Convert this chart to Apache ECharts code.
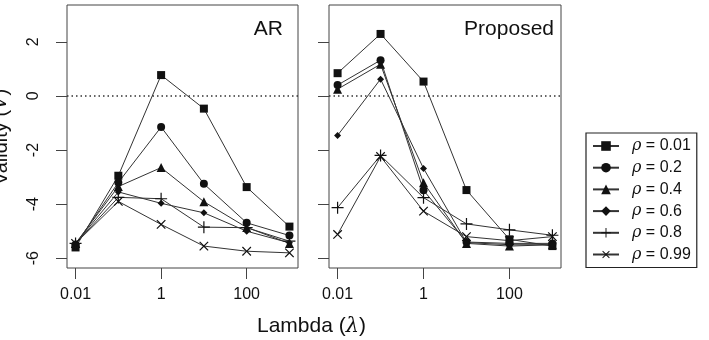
<!DOCTYPE html>
<html>
<head>
<meta charset="utf-8">
<script src="https://cdn.jsdelivr.net/npm/echarts@6/dist/echarts.min.js"></script>
<style>
  html, body { margin: 0; padding: 0; background: #fff; }
  #main { width: 709px; height: 340px; }
</style>
</head>
<body>
<div id="main"></div>
<script>
// lambda values on the x axis (log scale)
var lambdas = [0.01, 0.1, 1, 10, 100, 1000];
var rhoLabels = ['0.01', '0.2', '0.4', '0.6', '0.8', '0.99'];
var xTicks = [0.01, 1, 100];
var yTicks = [-6, -4, -2, 0, 2];

// AR panel, one array per rho
var ar001 = [-5.6, -2.95, 0.77, -0.47, -3.37, -4.83];
var ar02  = [-5.5, -3.2, -1.15, -3.25, -4.69, -5.16];
var ar04  = [-5.45, -3.35, -2.65, -3.91, -4.86, -5.45];
var ar06  = [-5.45, -3.55, -3.97, -4.32, -5.0, -5.43];
var ar08  = [-5.45, -3.75, -3.8, -4.85, -4.87, -5.37];
var ar099 = [-5.45, -3.9, -4.75, -5.55, -5.74, -5.8];

// Proposed panel
var pr001 = [0.84, 2.29, 0.53, -3.48, -5.3, -5.55];
var pr02  = [0.4, 1.32, -3.49, -5.4, -5.45, -5.45];
var pr04  = [0.25, 1.17, -3.21, -5.45, -5.55, -5.5];
var pr06  = [-1.46, 0.62, -2.68, -5.42, -5.5, -5.5];
var pr08  = [-4.13, -2.2, -3.76, -4.73, -4.95, -5.15];
var pr099 = [-5.12, -2.24, -4.26, -5.2, -5.35, -5.2];

var arSets = [ar001, ar02, ar04, ar06, ar08, ar099];
var prSets = [pr001, pr02, pr04, pr06, pr08, pr099];

var plusPath = 'path://M4.5,0 H5.5 V4.5 H10 V5.5 H5.5 V10 H4.5 V5.5 H0 V4.5 H4.5 Z';
var marks = [
    {symbol: 'rect', size: 8, rot: 0},
    {symbol: 'circle', size: 8, rot: 0},
    {symbol: 'triangle', size: 9, rot: 0},
    {symbol: 'diamond', size: 7, rot: 0},
    {symbol: plusPath, size: 12, rot: 0},
    {symbol: plusPath, size: 12, rot: 45}
];

var ink = '#111';
var fontFam = '"Liberation Sans", Arial, sans-serif';

function pairs(vals) {
    return lambdas.map(function (l, i) { return [l, vals[i]]; });
}

var series = [];
[arSets, prSets].forEach(function (sets, g) {
    sets.forEach(function (vals, k) {
        var s = {
            name: rhoLabels[k],
            type: 'line',
            xAxisIndex: g,
            yAxisIndex: g,
            data: pairs(vals),
            symbol: marks[k].symbol,
            symbolSize: marks[k].size,
            symbolRotate: marks[k].rot,
            showSymbol: true,
            animation: false,
            itemStyle: {color: ink},
            lineStyle: {color: '#333', width: 1},
            emphasis: {disabled: true},
            z: 3
        };
        if (k === 0) {
            s.markLine = {
                silent: true,
                symbol: 'none',
                label: {show: false},
                lineStyle: {color: '#333', width: 1.5, type: [1.5, 3]},
                data: [{yAxis: 0}]
            };
        }
        series.push(s);
    });
});

function xAxis(idx) {
    return {
        type: 'log',
        logBase: 10,
        gridIndex: idx,
        position: 'bottom',
        min: Math.pow(10, -2.2),
        max: Math.pow(10, 3.2),
        axisLine: {show: false, onZero: false},
        splitLine: {show: false},
        axisTick: {show: true, length: 11, customValues: xTicks, lineStyle: {color: '#444'}},
        axisLabel: {
            customValues: xTicks,
            margin: 19,
            color: ink,
            fontSize: 16,
            fontFamily: fontFam,
            formatter: function (v) { return String(v); }
        }
    };
}

function yAxis(idx) {
    return {
        type: 'value',
        gridIndex: idx,
        min: -6.36,
        max: 3.36,
        axisLine: {show: false, onZero: false},
        splitLine: {show: false},
        axisTick: {show: true, length: 11, customValues: yTicks, lineStyle: {color: '#444'}},
        axisLabel: {
            show: idx === 0,
            customValues: yTicks,
            rotate: 90,
            margin: 25,
            color: ink,
            fontSize: 16,
            fontFamily: fontFam
        }
    };
}

var chart = echarts.init(document.getElementById('main'), null, {renderer: 'canvas'});
chart.setOption({
    backgroundColor: '#fff',
    animation: false,
    grid: [
        {left: 67, top: 5, width: 231, height: 263, show: true, borderColor: '#444', borderWidth: 1, backgroundColor: 'transparent'},
        {left: 329, top: 5, width: 232, height: 263, show: true, borderColor: '#444', borderWidth: 1, backgroundColor: 'transparent'}
    ],
    xAxis: [xAxis(0), xAxis(1)],
    yAxis: [yAxis(0), yAxis(1)],
    legend: {
        orient: 'vertical',
        left: 586,
        top: 133,
        itemWidth: 26,
        itemHeight: 12,
        itemGap: 5.7,
        padding: [5, 6, 5, 6],
        borderColor: '#222',
        borderWidth: 1.2,
        data: rhoLabels,
        formatter: function (name) { return '{i|ρ} = ' + name; },
        textStyle: {
            color: ink,
            fontSize: 16,
            fontFamily: fontFam,
            padding: [0, 0, 0, 8],
            rich: {i: {fontStyle: 'italic', fontFamily: '"DejaVu Serif", serif', fontSize: 16, color: ink}}
        }
    },
    graphic: [
        {type: 'text', right: 709 - 283, top: 19, style: {text: 'AR', fontSize: 21, fontFamily: fontFam, fill: ink}},
        {type: 'text', right: 709 - 554, top: 19, style: {text: 'Proposed', fontSize: 21, fontFamily: fontFam, fill: ink}},
        {type: 'text', left: 257, top: 316, style: {
            text: 'Lambda ({i|λ})', fontSize: 21, fontFamily: fontFam, fill: ink,
            rich: {i: {fontStyle: 'italic', fontFamily: '"DejaVu Serif", serif', fontSize: 21, fill: ink}}
        }},
        {type: 'text', x: 1, y: 137, rotation: Math.PI / 2, style: {
            text: 'Validity ({i|V})', fontSize: 20, fontFamily: fontFam, fill: ink,
            align: 'center', verticalAlign: 'middle',
            rich: {i: {fontStyle: 'italic', fontFamily: '"DejaVu Serif", serif', fontSize: 20, fill: ink}}
        }}
    ],
    series: series
});
</script>
</body>
</html>
